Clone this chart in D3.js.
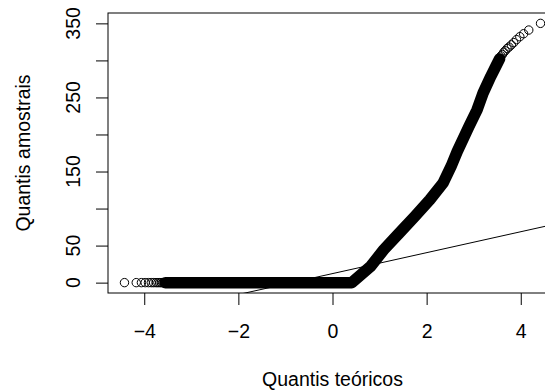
<!DOCTYPE html>
<html lang="pt">
<head>
<meta charset="utf-8">
<title>QQ normal</title>
<script src="https://cdn.jsdelivr.net/npm/d3@7"></script>
<style>
  body { margin: 0; background: #fff; }
  text { font-family: "Liberation Sans", Arial, sans-serif; font-size: 19.5px; fill: #000; }
</style>
</head>
<body>
<svg width="545" height="390"></svg>
<script>
// pontos esparsos da cauda esquerda (amostra = 0)
const leftTailX = [-4.42, -4.17, -4.06, -3.98, -3.91, -3.85, -3.80, -3.75, -3.71, -3.67, -3.64, -3.61, -3.58];
const leftTailY = [0, 0, 0, 0, 0, 0, 0, 0, 0, 0, 0, 0, 0];

// faixa densa de pontos
const bandX = [-3.55, 0.41, 0.81, 1.09, 1.42, 1.75, 2.07, 2.35, 2.52, 2.65, 2.90, 3.07, 3.20, 3.36, 3.47, 3.55];
const bandY = [0, 0, 22, 44.5, 67, 89.5, 112, 134.5, 157, 177, 211, 233, 256, 278, 292, 302];

// pontos esparsos da cauda direita
const rightTailX = [3.58, 3.61, 3.64, 3.67, 3.71, 3.75, 3.80, 3.85, 3.91, 3.98, 4.06, 4.17, 4.42];
const rightTailY = [306, 308, 311, 313, 316, 318, 321, 324, 328, 332, 336, 341, 350];

// qqline
const qqIntercept = 12.2;
const qqSlope = 14.13;

const xTicks = [-4, -2, 0, 2, 4];
const yTicks = [0, 50, 100, 150, 200, 250, 300, 350];
const yLabels = [0, 50, 150, 250, 350];

const svg = d3.select("svg");
const pLeft = 108, pRight = 557, pTop = 13, pBottom = 293;

const x = d3.scaleLinear().domain([-4.77, 4.77]).range([pLeft, pRight]);
const y = d3.scaleLinear().domain([-14, 364]).range([pBottom, pTop]);

svg.append("clipPath").attr("id", "plotclip")
  .append("rect").attr("x", pLeft).attr("y", pTop)
  .attr("width", pRight - pLeft).attr("height", pBottom - pTop);

const plot = svg.append("g").attr("clip-path", "url(#plotclip)");

// faixa densa
const band = bandX.map((d, i) => [d, bandY[i]]);
plot.append("path")
  .datum(band)
  .attr("d", d3.line().x(d => x(d[0])).y(d => y(d[1])))
  .attr("fill", "none")
  .attr("stroke", "#000")
  .attr("stroke-width", 11.5)
  .attr("stroke-linejoin", "round")
  .attr("stroke-linecap", "round");

const tails = leftTailX.map((d, i) => [d, leftTailY[i]])
  .concat(rightTailX.map((d, i) => [d, rightTailY[i]]));

plot.selectAll("circle.pt")
  .data(tails)
  .join("circle")
  .attr("class", "pt")
  .attr("cx", d => x(d[0]))
  .attr("cy", d => y(d[1]))
  .attr("r", 4.2)
  .attr("fill", "none")
  .attr("stroke", "#000")
  .attr("stroke-width", 1);

// linha de referencia
const [x0, x1] = x.domain();
plot.append("line")
  .attr("x1", x(x0)).attr("y1", y(qqIntercept + qqSlope * x0))
  .attr("x2", x(x1)).attr("y2", y(qqIntercept + qqSlope * x1))
  .attr("stroke", "#000")
  .attr("stroke-width", 1);

// caixa
svg.append("rect")
  .attr("x", pLeft).attr("y", pTop)
  .attr("width", pRight - pLeft).attr("height", pBottom - pTop)
  .attr("fill", "none").attr("stroke", "#000").attr("stroke-width", 1);

// eixo x
const xAxis = svg.append("g").attr("transform", `translate(0,${pBottom})`)
  .call(d3.axisBottom(x).tickValues(xTicks).tickSize(12).tickPadding(0)
    .tickFormat(d => d < 0 ? "\u2212" + Math.abs(d) : d));
xAxis.select(".domain").remove();
xAxis.selectAll("line").attr("stroke", "#000");
xAxis.selectAll("text").attr("dy", null).attr("y", 45);
xAxis.attr("font-family", null).attr("font-size", null);

// eixo y
const yAxis = svg.append("g").attr("transform", `translate(${pLeft},0)`)
  .call(d3.axisLeft(y).tickValues(yTicks).tickSize(12).tickFormat(""));
yAxis.select(".domain").remove();
yAxis.selectAll("line").attr("stroke", "#000");

svg.append("g").selectAll("text")
  .data(yLabels)
  .join("text")
  .attr("transform", d => `translate(80,${y(d)}) rotate(-90)`)
  .attr("text-anchor", "middle")
  .text(d => d);

// titulos
svg.append("text")
  .attr("x", x(0)).attr("y", 386)
  .attr("text-anchor", "middle")
  .text("Quantis teóricos");

svg.append("text")
  .attr("transform", `translate(30,${(pTop + pBottom) / 2}) rotate(-90)`)
  .attr("text-anchor", "middle")
  .text("Quantis amostrais");
</script>
</body>
</html>
